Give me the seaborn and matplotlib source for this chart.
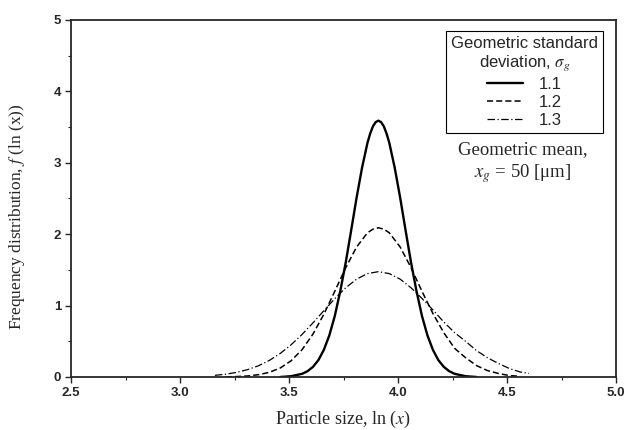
import numpy as np
import pandas as pd
import matplotlib
matplotlib.use("Agg")
import matplotlib.pyplot as plt
import seaborn as sns
from matplotlib.lines import Line2D
from matplotlib.ticker import MultipleLocator

# ---- data ----
x_11 = [3.46, 3.51, 3.56, 3.585, 3.61, 3.635, 3.66, 3.685, 3.71, 3.735, 3.76, 3.785,
        3.81, 3.835, 3.86, 3.8725, 3.885, 3.8975, 3.91, 3.9225, 3.935, 3.9475, 3.96,
        3.985, 4.01, 4.035, 4.06, 4.085, 4.11, 4.135, 4.16, 4.185, 4.21, 4.235, 4.26,
        4.31, 4.36]
y_11 = [0.0, 0.011, 0.044, 0.081, 0.142, 0.237, 0.381, 0.583, 0.854, 1.20, 1.60, 2.05,
        2.51, 2.93, 3.28, 3.41, 3.51, 3.57, 3.59, 3.57, 3.51, 3.41, 3.28,
        2.93, 2.51, 2.05, 1.60, 1.20, 0.854, 0.583, 0.381, 0.237, 0.142, 0.081, 0.044,
        0.011, 0.0]

x_12 = [3.21, 3.26, 3.31, 3.36, 3.41, 3.46, 3.51, 3.56, 3.61, 3.66, 3.71, 3.76, 3.81,
        3.86, 3.885, 3.91, 3.935, 3.96, 4.01, 4.06, 4.11, 4.16, 4.21, 4.26, 4.31, 4.36,
        4.41, 4.46, 4.51, 4.56]
y_12 = [0.001, 0.006, 0.014, 0.032, 0.065, 0.126, 0.228, 0.383, 0.601, 0.879, 1.20,
        1.53, 1.82, 2.02, 2.07, 2.09, 2.07, 2.02, 1.82, 1.53, 1.20, 0.89, 0.62, 0.40,
        0.27, 0.16, 0.09, 0.05, 0.02, 0.01]

x_13 = [3.16, 3.21, 3.26, 3.31, 3.36, 3.41, 3.46, 3.51, 3.56, 3.61, 3.66, 3.71, 3.76,
        3.81, 3.86, 3.91, 3.96, 4.01, 4.06, 4.11, 4.16, 4.21, 4.26, 4.31, 4.36, 4.41,
        4.46, 4.51, 4.56, 4.60]
y_13 = [0.023, 0.039, 0.065, 0.103, 0.157, 0.232, 0.330, 0.452, 0.596, 0.758, 0.929,
        1.097, 1.249, 1.370, 1.448, 1.475, 1.448, 1.370, 1.249, 1.10, 0.94, 0.77,
        0.62, 0.50, 0.37, 0.27, 0.19, 0.12, 0.07, 0.05]

series_labels = ["1.1", "1.2", "1.3"]
x_ticks = [2.5, 3.0, 3.5, 4.0, 4.5, 5.0]
y_ticks = [0, 1, 2, 3, 4, 5]

df = pd.concat([
    pd.DataFrame({"x": x_11, "y": y_11, "s": series_labels[0]}),
    pd.DataFrame({"x": x_12, "y": y_12, "s": series_labels[1]}),
    pd.DataFrame({"x": x_13, "y": y_13, "s": series_labels[2]}),
])

sns.set_style("ticks")
plt.rcParams["font.family"] = ["Liberation Sans", "DejaVu Sans"]
plt.rcParams["mathtext.fontset"] = "stix"

fig = plt.figure(figsize=(6.25, 4.3), dpi=100)
ax = fig.add_axes([0.1136, 0.1233, 0.872, 0.8302])

styles = {"1.1": dict(ls="-", lw=1.7),
          "1.2": dict(ls=(0, (4, 2)), lw=1.1),
          "1.3": dict(ls=(0, (6, 2, 1, 2)), lw=0.9)}
handles = []
for lab in series_labels:
    sub = df[df["s"] == lab]
    sns.lineplot(data=sub, x="x", y="y", ax=ax, color="black", sort=False,
                 estimator=None, legend=False, **styles[lab])
    handles.append(Line2D([], [], color="black", **styles[lab]))

ax.set_xlim(2.5, 5.0)
ax.set_ylim(0, 5)
ax.set_xticks(x_ticks)
ax.set_xticklabels([f"{t:.1f}" for t in x_ticks])
ax.set_yticks(y_ticks)
ax.set_yticklabels([str(t) for t in y_ticks])
ax.xaxis.set_minor_locator(MultipleLocator(0.25))
ax.yaxis.set_minor_locator(MultipleLocator(0.5))
for sp in ax.spines.values():
    sp.set_visible(True)
    sp.set_linewidth(1.3)
ax.tick_params(which="major", direction="out", length=4, width=1, labelsize=9.5,
               top=False, right=False, pad=3)
ax.tick_params(which="minor", direction="out", length=2.5, width=0.8,
               top=False, right=False)
for t in ax.get_xticklabels() + ax.get_yticklabels():
    t.set_fontweight("bold")

ax.set_xlabel(r"Particle size, ln ($\mathit{x}$)", family="Liberation Serif",
              fontsize=13, labelpad=7)
ax.set_ylabel(r"Frequency distribution, $\mathit{f}$ (ln (x))", family="Liberation Serif",
              fontsize=12.5)
ax.yaxis.set_label_coords(-0.080, 0.45)

leg = ax.legend(handles, series_labels,
                title="Geometric standard\ndeviation, $\\sigma_g$",
                loc="upper right", bbox_to_anchor=(0.976, 0.969),
                borderaxespad=0, fancybox=False, edgecolor="black",
                fontsize=12, title_fontsize=12, handlelength=2.2,
                labelspacing=0.2, borderpad=0.3, handletextpad=0.95,
                framealpha=1)
leg.get_frame().set_linewidth(0.8)
leg.get_title().set_multialignment("center")

ax.text(0.828, 0.636, "Geometric mean,", transform=ax.transAxes,
        ha="center", va="center", family="Liberation Serif", fontsize=13.5)
ax.text(0.828, 0.571, r"$\mathit{x}_{g}$ = 50 [μm]", transform=ax.transAxes,
        ha="center", va="center", family="Liberation Serif", fontsize=13.5)

fig.savefig("out.png", dpi=100)
